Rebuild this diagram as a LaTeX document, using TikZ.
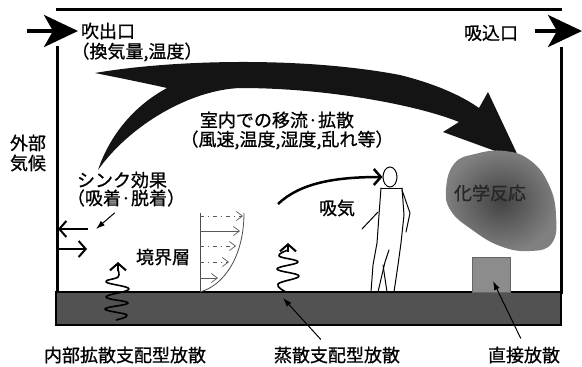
\documentclass[tikz,border=0pt]{standalone}
\usepackage{fontspec}
\newfontfamily\jp[FakeBold=0.8]{Noto Sans CJK JP}
\usetikzlibrary{arrows.meta,calc,shapes.geometric}

\begin{document}
\begin{tikzpicture}[x=1pt,y=-1pt,
  lbl/.style={font=\jp\fontsize{18}{21}\selectfont, inner sep=0pt, anchor=center},
  wall/.style={line width=3pt, line cap=rect},
  flowhead/.style={line width=4pt, -{Stealth[length=34pt,width=32pt,inset=9pt]}},
  barbarrow/.style={line width=2pt, -{Straight Barb[length=7pt,width=16pt]}},
  pointer/.style={line width=1pt, -{Latex[length=9pt,width=6pt]}},
  blarrow/.style={line width=0.7pt, black!65, -{Straight Barb[length=6pt,width=9pt]}},
  bldash/.style={blarrow, dash pattern=on 4pt off 4pt on 1pt off 4pt},
  squig/.style={line width=1.6pt, line join=round},
  figure/.style={line width=1pt, line join=round, line cap=round},
]
\useasboundingbox (0,0) rectangle (582,367);

% room outline
\draw[wall] (57,9) -- (560,9);
\draw[wall] (57,47) -- (57,292);
\draw[wall] (561,48) -- (561,292);

% floor slab
\draw[line width=2.5pt, fill=black!68] (56,292) rectangle (561,325);

% supply and exhaust openings
\coordinate (inA) at (27,31);  \coordinate (inB) at (78,31);
\coordinate (outA) at (535,31); \coordinate (outB) at (582,31);
\draw[flowhead] (inA) -- (inB);
\draw[flowhead] (outA) -- (outB);

% indoor advection / diffusion swoosh
\fill[black!92] (95,73) .. controls (170,60) and (300,56) .. (400,75)
  .. controls (440,85) and (465,98) .. (479,108) -- (488,92) -- (520,160)
  -- (443,132) -- (459,122)
  .. controls (420,106) and (330,88) .. (240,88)
  .. controls (190,90) and (130,125) .. (98,170)
  .. controls (108,140) and (130,108) .. (167,88)
  .. controls (140,82) and (115,77) .. (95,73) -- cycle;

% chemical reaction zone
\shade[inner color=black!74, outer color=black!50]
  plot[smooth cycle, tension=0.75] coordinates {(446,190) (454,164) (475,154) (505,151) (531,161) (549,185) (556,215) (552,243) (530,251) (500,246) (471,229) (451,211)};

% direct emission source
\node[draw=black!60, fill=black!45, line width=0.6pt, minimum width=38pt, minimum height=35pt, inner sep=0pt] (srcbox) at (491,274.5) {};

% labels
\node[lbl] (inlet) at (108,31) {吹出口};
\node[lbl] (inletsub) at (137,52) {（換気量,温度）};
\node[lbl] (outlet) at (491,33) {吸込口};
\node[lbl, align=center, font=\jp\fontsize{18}{20}\selectfont] (outer) at (28,153) {外部\\気候};
\node[lbl] (sink) at (122,180) {シンク効果};
\node[lbl] (sinksub) at (126,198) {（吸着·脱着）};
\node[lbl] (flow) at (277,120) {室内での移流·拡散};
\node[lbl] (flowsub) at (287,140) {（風速,温度,湿度,乱れ等）};
\node[lbl] (breath) at (337,208) {吸気};
\node[lbl] (bl) at (163,257) {境界層};
\node[lbl, text=black!85] (chem) at (490,193) {化学反応};
\node[lbl] (b1) at (125,355) {内部拡散支配型放散};
\node[lbl] (b2) at (337,355) {蒸散支配型放散};
\node[lbl] (b3) at (524,355) {直接放散};

% sink effect at the wall
\coordinate (wallL1) at (58,229); \coordinate (wallL1o) at (88,229);
\coordinate (wallL2) at (58,249); \coordinate (wallL2o) at (87,249);
\draw[barbarrow] (wallL1o) -- (wallL1);
\draw[barbarrow] (wallL2) -- (wallL2o);
\coordinate (sinkTip) at (96,229);
\draw[pointer] ($(sinksub.south west)+(48,6)$) -- (sinkTip);

% boundary layer profile
\coordinate (blTop) at (200,213); \coordinate (blBot) at (200,292);
\draw[line width=0.8pt, black!70] (blTop) -- (blBot);
\draw[line width=0.8pt, black!70] (blBot) .. controls (225,285) and (244,255) .. (244,213);
\draw[bldash] (200,216) -- (243,216);
\draw[blarrow] (200,231) -- (240,231);
\draw[bldash] (200,246) -- (236,246);
\draw[bldash] (200,262) -- (229,262);
\draw[blarrow] (200,278) -- (218,278);

% occupant
\node[draw, ellipse, line width=1pt, minimum width=14pt, minimum height=20pt, inner sep=0pt] (head) at (390,177) {};
\draw[figure] (381,188) -- (402,188);
\draw[figure] (381,188) -- (379,215) -- (377,243) -- (373,265) -- (371,292);
\draw[figure] (402,188) -- (404,215) -- (401,243) -- (398,265) -- (394,292);
\draw[figure] (378,292) -- (385,262) -- (389,250);
\draw[figure] (387,292) -- (383,265);
\draw[figure] (402,190) -- (410,213) -- (406,232);
\draw[figure] (362,229) -- (378,212);

% inhalation
\coordinate (breathStart) at (278,204);
\draw[line width=2.5pt, -{Straight Barb[length=7pt,width=16pt]}] (breathStart) .. controls (300,183) and (335,177) .. (head.west);

% evaporation-controlled emission
\coordinate (evTop) at (288,243);
\draw[squig] plot[smooth, tension=0.7] coordinates {(288,250) (279,256) (298,262) (277,269) (299,276) (278,284) (286,292)};
\draw[barbarrow] (288,252) -- (evTop);

% internal-diffusion-controlled emission
\coordinate (idTop) at (118,262);
\draw[squig] plot[smooth, tension=0.7] coordinates {(118,270) (118,277) (106,282) (129,289) (106,297) (128,303) (105,309) (127,315) (116,320)};
\draw[barbarrow] (118,271) -- (idTop);

% label pointers
\coordinate (evBase) at (283,298);
\coordinate (srcPt) at (493,281);
\draw[pointer] ($(b2.north west)+(47,-7)$) -- (evBase);
\draw[pointer] ($(b3.north west)+(33,-8)$) -- (srcPt);
\end{tikzpicture}
\end{document}
